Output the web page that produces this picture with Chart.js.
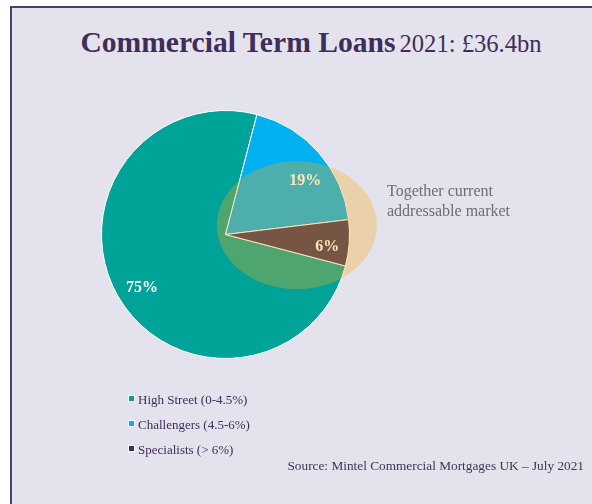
<!DOCTYPE html>
<html>
<head>
<meta charset="utf-8">
<script src="https://cdn.jsdelivr.net/npm/chart.js@4.4.1/dist/chart.umd.min.js"></script>
<style>
  html, body { margin: 0; padding: 0; background: #fff; }
  body { width: 592px; height: 504px; position: relative; overflow: hidden; font-family: "Liberation Serif", "Times New Roman", serif; }
  #panel {
    position: absolute; left: 10px; top: 6px; width: 640px; height: 560px;
    background: #E4E2EC; border-left: 2px solid #4E4068; border-top: 2px solid #4E4068;
  }
  #chartWrap { position: absolute; left: 0; top: 0; width: 592px; height: 504px; }
  #title {
    position: absolute; left: 0; width: 622px; top: 26px; text-align: center;
    color: #3F2D5A; white-space: nowrap;
  }
  #title b { font-size: 29.6px; }
  #title span { font-size: 24.6px; }
  #note {
    position: absolute; left: 387px; top: 181px; color: #6E6C70;
    font-size: 16px; line-height: 20px;
  }
  #legend { position: absolute; left: 128px; top: 391px; color: #3F2D5A; font-size: 13px; }
  #legend div { height: 25px; line-height: 18px; white-space: nowrap; }
  #legend i {
    display: inline-block; width: 5px; height: 5px; margin-right: 3px;
    border: 1px solid #fff; vertical-align: 2px;
  }
  #source { position: absolute; right: 8px; top: 458px; color: #3F3550; font-size: 13.3px; white-space: nowrap; }
</style>
</head>
<body>
<div id="panel"></div>
<div id="title"><b>Commercial Term Loans</b> <span>2021: £36.4bn</span></div>
<div id="chartWrap"><canvas id="loansChart" width="592" height="504"></canvas></div>
<div id="note">Together current<br>addressable market</div>
<div id="legend"></div>
<div id="source">Source: Mintel Commercial Mortgages UK – July 2021</div>

<script>
// lender segments and their share of the 2021 term loan book (%)
const segments = ['High Street (0-4.5%)', 'Challengers (4.5-6%)', 'Specialists (> 6%)'];
const shares = [75, 19, 6];
const segmentColours = ['#00A398', '#00B0F0', '#3A2F5B'];
// small hand nudges (px) for each slice label
const labelNudge = [[1, 4], [6, 11], [4, 6]];

// percentage labels drawn inside each slice
const sliceLabels = {
    id: 'sliceLabels',
    afterDatasetsDraw(chart) {
        const ctx = chart.ctx;
        const arcs = chart.getDatasetMeta(0).data;
        ctx.save();
        ctx.fillStyle = '#ffffff';
        ctx.font = 'bold 16px "Liberation Serif", serif';
        ctx.textAlign = 'center';
        ctx.textBaseline = 'middle';
        arcs.forEach((arc, i) => {
            const mid = (arc.startAngle + arc.endAngle) / 2;
            const d = arc.outerRadius * 0.79;
            ctx.fillText(shares[i] + '%',
                arc.x + Math.cos(mid) * d + labelNudge[i][0],
                arc.y + Math.sin(mid) * d + labelNudge[i][1]);
        });
        ctx.restore();
    }
};

// translucent ellipse marking the addressable market (challengers + specialists)
const marketOverlay = {
    id: 'marketOverlay',
    afterDraw(chart) {
        const arc = chart.getDatasetMeta(0).data[0];
        const r = arc.outerRadius;
        const ctx = chart.ctx;
        ctx.save();
        ctx.fillStyle = 'rgba(251, 170, 23, 0.31)';
        ctx.beginPath();
        ctx.ellipse(arc.x + r * 0.575, arc.y - r * 0.075, r * 0.645, r * 0.516, 0, 0, Math.PI * 2);
        ctx.fill();
        ctx.restore();
    }
};

new Chart(document.getElementById('loansChart'), {
    type: 'pie',
    data: {
        labels: segments,
        datasets: [{
            data: shares,
            backgroundColor: segmentColours,
            borderColor: '#ffffff',
            borderWidth: 1
        }]
    },
    options: {
        responsive: false,
        animation: false,
        events: [],
        rotation: 104.7,
        layout: { padding: { left: 101, right: 242, top: 110, bottom: 145 } },
        plugins: {
            legend: { display: false },
            tooltip: { enabled: false }
        }
    },
    plugins: [sliceLabels, marketOverlay]
});

// legend list below the pie
const legend = document.getElementById('legend');
segments.forEach((name, i) => {
    const row = document.createElement('div');
    row.innerHTML = '<i style="background:' + segmentColours[i] + '"></i>' + name;
    legend.appendChild(row);
});
</script>
</body>
</html>
